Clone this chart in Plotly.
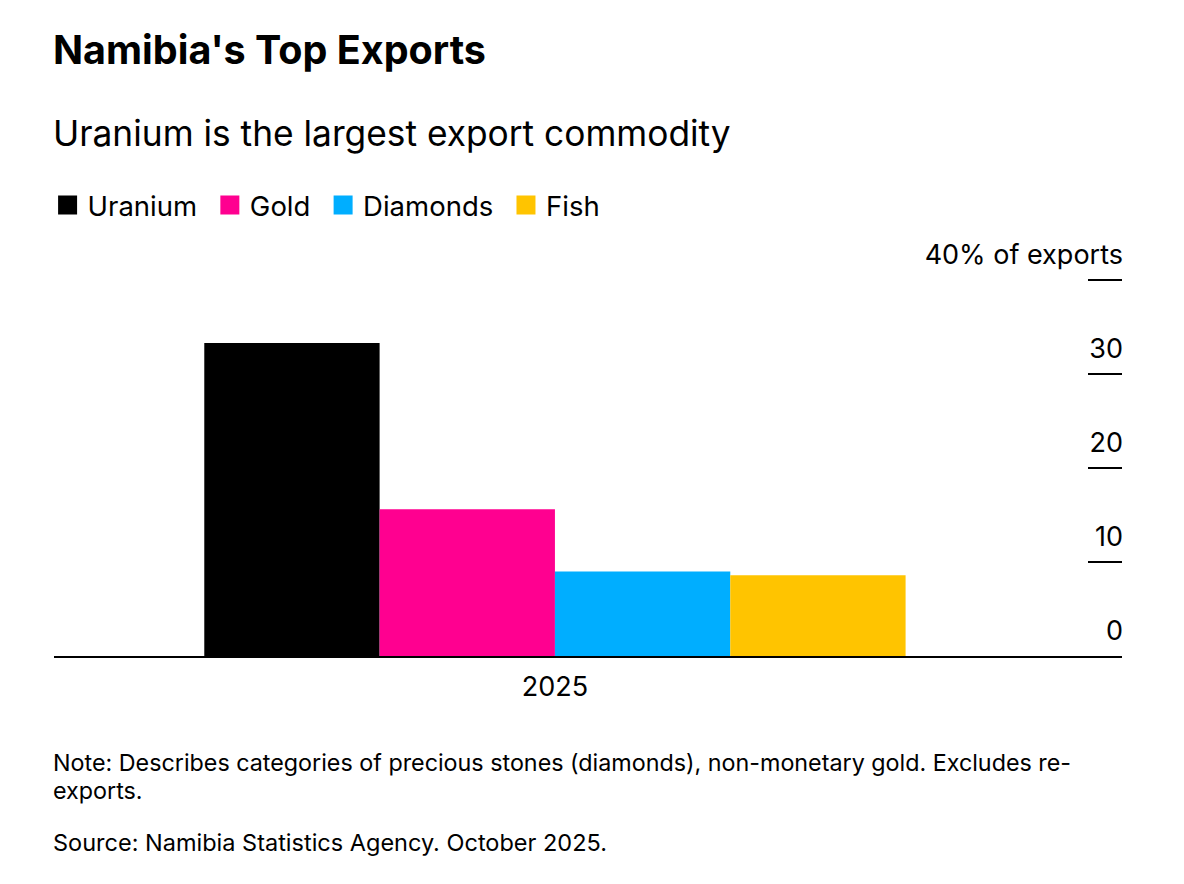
import plotly.graph_objects as go

# ---- data ----
categories = ["2025"]
series_names = ["Uranium", "Gold", "Diamonds", "Fish"]
uranium = [33.3]
gold = [15.6]
diamonds = [9.0]
fish = [8.6]
series_values = [uranium, gold, diamonds, fish]
series_colors = ["#000000", "#FF0090", "#00AEFF", "#FFC400"]
tick_vals = [0, 10, 20, 30, 40]
tick_text = ["0", "10", "20", "30", "40% of exports"]

FONT = "Inter"
W, H = 1184, 884
OFF = 8  # page body margin
BASE_ABS = 656      # y pixel of zero line on page
TOP_ABS = 222       # top of plot area on page
LEFT_ABS, RIGHT_ABS = 54, 1122
L = LEFT_ABS - OFF
R = W - (RIGHT_ABS - OFF)
T = TOP_ABS - OFF
B = H - (BASE_ABS - OFF)
plot_h = BASE_ABS - TOP_ABS
px_per_unit = (656 - 280) / 40.0
y_top = plot_h / px_per_unit


def py(p):
    return (BASE_ABS - p) / plot_h


fig = go.Figure()
for name, vals, col in zip(series_names, series_values, series_colors):
    fig.add_trace(go.Bar(
        x=categories, y=vals, name=name, marker=dict(color=col, line=dict(width=0)),
        showlegend=False, hoverinfo="skip",
    ))
# legend entries (square markers)
for name, col in zip(series_names, series_colors):
    fig.add_trace(go.Scatter(
        x=[None], y=[None], name=name + "\u00a0", mode="markers",
        marker=dict(symbol="square", size=16, color=col, line=dict(color=col, width=3)),
        showlegend=True,
    ))

fig.update_layout(
    width=W, height=H,
    margin=dict(l=L, r=R, t=T, b=B, pad=0),
    paper_bgcolor="white", plot_bgcolor="white",
    font=dict(family=FONT, color="#000000", size=26),
    barmode="group", bargap=0.3, bargroupgap=0,
    showlegend=True,
    legend=dict(
        orientation="h", x=-0.006, xanchor="left", y=py(205), yanchor="middle",
        font=dict(family=FONT, size=27.5, color="#000"),
        itemclick=False, itemdoubleclick=False, bgcolor="rgba(0,0,0,0)",
        itemsizing="trace", tracegroupgap=0,
    ),
    xaxis=dict(
        type="category", range=[-0.5, 0.566], showgrid=False, zeroline=False,
        showline=True, linecolor="#000000", linewidth=1.5, ticks="",
        tickfont=dict(family=FONT, size=27, color="#000"),
        ticklabelstandoff=6,
        fixedrange=True,
    ),
    yaxis=dict(
        side="right", range=[0, y_top], showgrid=False, zeroline=False, showline=False,
        tickmode="array", tickvals=tick_vals, ticktext=tick_text,
        ticks="inside", ticklen=34, tickwidth=2, tickcolor="#000000",
        ticklabelposition="inside top", ticklabelshift=-6, ticklabelstandoff=-4,
        tickfont=dict(family=FONT, size=27, color="#000"),
        fixedrange=True,
    ),
    annotations=[
        dict(text="<b>Namibia's Top Exports</b>", xref="paper", yref="paper",
             x=-0.003, y=py(50), xanchor="left", yanchor="middle", showarrow=False,
             font=dict(family=FONT, size=39.5, color="#000")),
        dict(text="Uranium is the largest export commodity", xref="paper", yref="paper",
             x=-0.003, y=py(133), xanchor="left", yanchor="middle", showarrow=False,
             font=dict(family=FONT, size=35.3, color="#000")),
        dict(text="Note: Describes categories of precious stones (diamonds), non-monetary gold. Excludes re-",
             xref="paper", yref="paper", x=-0.003, y=py(762), xanchor="left", yanchor="middle",
             align="left", showarrow=False, font=dict(family=FONT, size=23.3, color="#000")),
        dict(text="exports.",
             xref="paper", yref="paper", x=-0.003, y=py(790), xanchor="left", yanchor="middle",
             align="left", showarrow=False, font=dict(family=FONT, size=23.3, color="#000")),
        dict(text="Source: Namibia Statistics Agency. October 2025.", xref="paper", yref="paper",
             x=-0.003, y=py(842), xanchor="left", yanchor="middle", showarrow=False,
             font=dict(family=FONT, size=23.5, color="#000")),
    ],
)

fig.write_html("out.html", config={"displayModeBar": False})
